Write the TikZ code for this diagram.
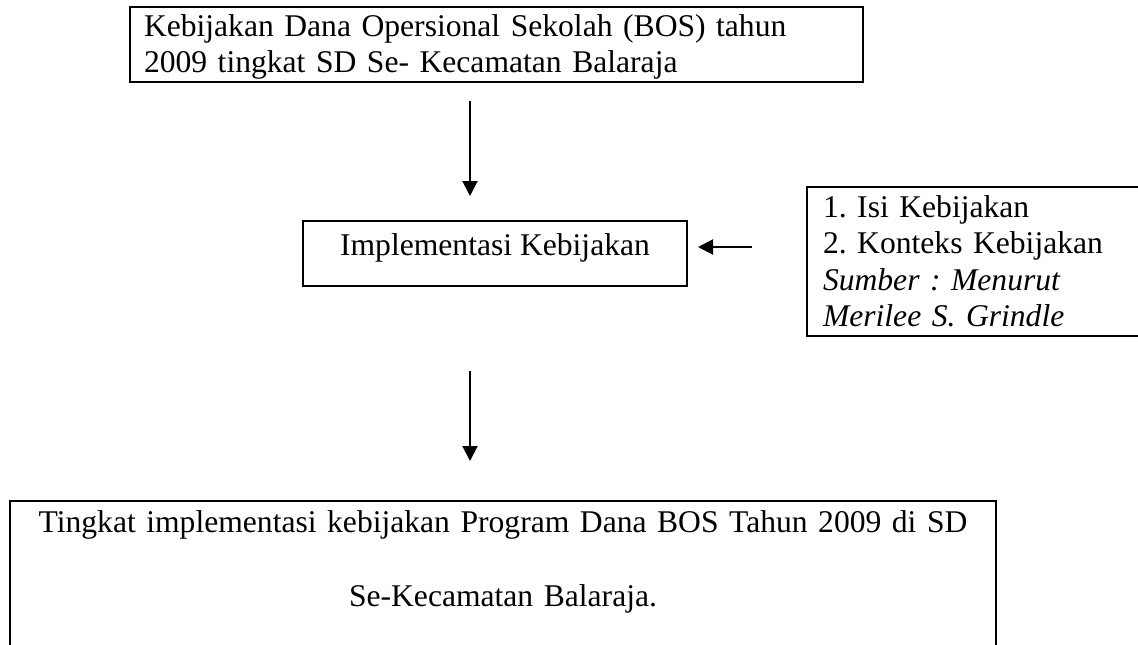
\documentclass[tikz,border=0pt]{standalone}
\usepackage{fontspec}
\setmainfont{Liberation Serif}
\usepackage{tikz}
\usetikzlibrary{arrows.meta, calc}
\frenchspacing

\begin{document}
\begin{tikzpicture}[
    x=1pt, y=-1pt,
    font=\fontsize{31.6}{36.5}\selectfont,
    box/.style={draw, line width=2pt, inner sep=0pt},
    flow/.style={-{Triangle[width=15pt,length=15pt]}, line width=2pt}
  ]
  \useasboundingbox (0,0) rectangle (1138,645);
  \node[box, anchor=base west, text width=705pt, inner xsep=14pt,
    text height=29pt, text depth=46pt, align=left] (kebijakan) at (129,36)
    {Kebijakan Dana Opersional Sekolah (BOS) tahun\\2009 tingkat SD Se- Kecamatan Balaraja};
  \node[box, anchor=base, minimum width=384pt,
    text height=34pt, text depth=31pt] (impl) at (495,255)
    {Implementasi Kebijakan};
  \node[box, anchor=base west, text width=340pt, inner xsep=16pt,
    text height=30pt, text depth=119pt, align=left] (teori) at (806,217)
    {1. Isi Kebijakan\\2. Konteks Kebijakan\\\textit{Sumber : Menurut}\\\textit{Merilee S. Grindle}};
  \node[box, anchor=base, text width=986pt,
    text height=31pt, text depth=150pt, align=center] (tingkat) at (503,532)
    {Tingkat implementasi kebijakan Program Dana BOS Tahun 2009 di SD\\[37.5pt]Se-Kecamatan Balaraja.};
  \coordinate (col) at (470,0);
  \coordinate (row) at (0,247);
  \path[flow]
    (kebijakan.south -| col) edge[shorten <=18pt, shorten >=24pt] (impl.north -| col)
    (impl.south -| col) edge[shorten <=84pt, shorten >=39pt] (tingkat.north -| col)
    (teori.west |- row) edge[shorten <=54pt, shorten >=10pt] (impl.east |- row);
\end{tikzpicture}
\end{document}
